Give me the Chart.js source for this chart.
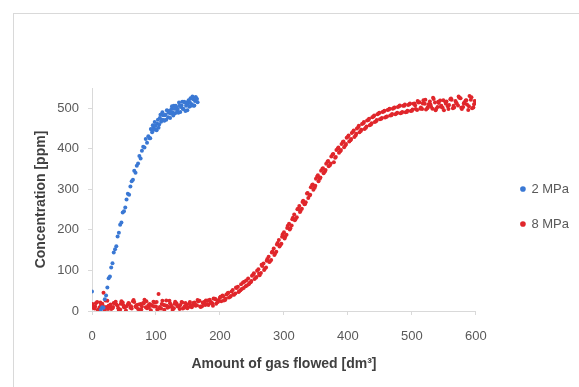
<!DOCTYPE html>
<html>
<head>
<meta charset="utf-8">
<script src="https://cdn.jsdelivr.net/npm/chart.js@4.4.1/dist/chart.umd.min.js"></script>
<style>
  html, body { margin: 0; padding: 0; background: #fff; }
  #wrap { position: relative; width: 579px; height: 387px; overflow: hidden; }
  #frame { position: absolute; left: 13px; top: 13px; width: 700px; height: 500px; border: 1px solid #d9d9d9; }
  #chart { position: absolute; left: 0; top: 0; }
</style>
</head>
<body>
<div id="wrap">
  <div id="frame"></div>
  <canvas id="chart" width="579" height="387"></canvas>
</div>
<script>
// DATA

const seriesNames = ['2 MPa', '8 MPa'];
const xTicks = [0, 100, 200, 300, 400, 500, 600];
const yTicks = [0, 100, 200, 300, 400, 500];

// 2 MPa run (blue)
const blueX = [0, 14,
    16, 18, 20, 22, 24, 26, 28, 30, 32, 34, 36, 38, 40, 42, 44, 46, 48, 50,
    52, 54, 56, 58, 60, 62, 64, 66, 68, 70, 72, 74, 76, 78, 80, 82, 84, 86,
    88, 90, 92, 94, 96, 98, 100, 102, 104, 106, 108, 110, 112, 114, 116, 118, 120, 122, 124, 126,
    128, 130, 132, 134, 136, 138, 140, 142, 144, 146, 148, 150, 152, 154, 156, 158, 160, 162, 164,
    91, 93, 95, 97, 99, 101, 103, 105, 107, 109, 111, 113, 115, 117, 119, 121, 123, 125, 127, 129,
    131, 133, 135, 137, 139, 141, 143, 145, 147, 149, 151, 153, 155, 157, 159, 161, 163, 165];
const blueY = [48, 4,
    9, 8, 29, 38, 58, 81, 85, 107, 118, 144, 152, 160, 184, 193, 213, 218, 243, 246,
    255, 275, 289, 287, 307, 320, 324, 346, 341, 358, 364, 382, 376, 395, 405, 403, 424, 415,
    431, 426, 449, 441, 454, 466, 448, 462, 452, 476, 467, 490, 471, 483, 472, 494, 489, 476, 498, 490,
    506, 488, 502, 498, 514, 491, 507, 499, 516, 493, 514, 511, 504, 525, 510, 522, 507, 528, 523,
    426, 447, 458, 447, 457, 446, 472, 460, 484, 472, 483, 469, 484, 495, 478, 493, 487, 505, 482, 499,
    506, 493, 489, 507, 503, 516, 498, 514, 506, 495, 520, 514, 506, 529, 506, 518, 525, 515];

// 8 MPa run (red), three interleaved passes
const redX1 = [];
for (let x = 0; x <= 600; x += 4) redX1.push(x);
const redY1 = [14, 6, 22, 9, 18, 3, 25, 11, 7, 19, 13, 4, 21, 10, 16, 8, 24, 12, 5, 17,
    20, 9, 14, 2, 23, 11, 42, 6, 15, 26, 10, 13, 7, 19, 12, 22, 8, 16,
    18, 9, 21, 14, 25, 12, 23, 17, 28, 19, 30, 22, 33,
    38, 27, 44, 35, 52, 43, 60, 51, 70, 61, 80, 71, 90, 82, 103, 94, 117, 107, 134, 126, 154, 146, 175, 166, 194,
    188, 215, 211, 238, 231, 259, 252, 263, 290, 285, 311, 304, 332, 326, 351, 344, 368, 360, 386, 378, 400, 394, 417, 409, 430,
    421, 442, 433, 453, 444, 463, 452, 471, 460, 480, 468, 487, 474, 492, 479, 497, 483, 501, 487, 505, 489, 506, 491, 510, 494,
    512, 496, 515, 498, 511, 500, 517, 499, 514, 503, 519, 501, 516, 505, 522, 500, 518, 507, 525, 503, 519, 496, 521, 502, 515];
const redX2 = [];
for (let x = 2; x <= 598; x += 4) redX2.push(x);
const redY2 = [8, 19, 4, 15, 45, 10, 13, 5, 20, 16, 1, 24, 9, 12, 18, 6, 22, 15, 3, 11,
    28, 7, 17, 13, 21, 4, 10, 25, 14, 8, 19, 3, 23, 11, 15, 6, 20, 9,
    11, 20, 13, 24, 10, 19, 26, 15, 22, 31, 18, 27, 24,
    26, 41, 33, 48, 40, 57, 49, 54, 72, 63, 69, 87, 79, 99, 88, 111, 104, 128, 122, 147, 141, 168, 162, 189, 183,
    210, 204, 230, 226, 252, 247, 272, 268, 279, 305, 299, 326, 320, 346, 340, 363, 357, 381, 367, 397, 390, 412, 404, 427, 418,
    439, 429, 450, 441, 461, 449, 470, 458, 478, 466, 485, 473, 491, 477, 496, 482, 499, 485, 503, 488, 506, 490, 508, 493, 511,
    498, 514, 502, 520, 497, 510, 504, 523, 499, 513, 506, 495, 517, 508, 521, 502, 512, 526, 498, 515, 509, 530, 500, 518];
const redX3 = [];
for (let x = 1; x <= 597; x += 4) redX3.push(x);
const redY3 = [17, 11, 2, 21, 13, 26, 5, 16, 10, 23, 7, 18, 14, 1, 20, 12, 27, 9, 16, 4,
    19, 24, 8, 15, 11, 22, 6, 17, 3, 13, 25, 9, 18, 14, 5, 21, 12, 7,
    22, 14, 17, 27, 11, 21, 15, 26, 20, 13, 29, 23, 35,
    36, 30, 45, 37, 41, 58, 47, 66, 57, 75, 66, 74, 93, 84, 92, 114, 101, 124, 121, 144, 138, 164, 159, 183, 179,
    205, 201, 226, 224, 251, 244, 269, 264, 291, 287, 312, 309, 335, 329, 352, 348, 370, 364, 387, 380, 403, 397, 418, 412, 433,
    424, 445, 437, 457, 447, 466, 455, 474, 463, 482, 471, 489, 476, 494, 480, 499, 486, 502, 489, 507, 491, 509, 494, 512, 497,
    507, 518, 499, 512, 521, 503, 509, 526, 495, 516, 504, 520, 511, 498, 524, 506, 514, 529, 501, 512, 520, 505, 527, 510];

const blueColor = '#3a78d4';
const redColor = '#e0262b';

function toPoints(xs, ys) {
    return xs.map((x, i) => ({ x: x, y: ys[i] }));
}

// nudge the right-hand legend into place
const legendShift = {
    id: 'legendShift',
    afterLayout(chart) {
        const l = chart.legend;
        l.left += 23; l.right += 23;
        l.top -= 24; l.bottom -= 24;
    }
};

// CHART

const ctx = document.getElementById('chart').getContext('2d');
new Chart(ctx, {
    type: 'scatter',
    data: {
        datasets: [{
            label: seriesNames[0],
            data: toPoints(blueX, blueY),
            backgroundColor: blueColor,
            borderWidth: 0,
            pointRadius: 2
        }, {
            label: seriesNames[1],
            data: toPoints(redX1, redY1).concat(toPoints(redX2, redY2), toPoints(redX3, redY3)),
            backgroundColor: redColor,
            borderWidth: 0,
            pointRadius: 2
        }]
    },
    plugins: [legendShift],
    options: {
        responsive: false,
        animation: false,
        layout: { padding: { left: 33, right: 23, top: 88, bottom: 14 } },
        plugins: {
            tooltip: { enabled: false },
            legend: {
                position: 'right',
                labels: {
                    usePointStyle: true,
                    pointStyle: 'circle',
                    boxWidth: 4,
                    boxHeight: 4,
                    padding: 22,
                    color: '#595959',
                    font: { family: 'Liberation Sans', size: 13 }
                }
            }
        },
        scales: {
            x: {
                type: 'linear',
                min: 0,
                max: 600,
                afterBuildTicks: s => { s.ticks = xTicks.map(v => ({ value: v })); },
                afterFit: s => { s.height = 62; },
                grid: { display: true, drawOnChartArea: false, color: '#d9d9d9', tickLength: 4 },
                border: { color: '#d9d9d9' },
                ticks: { color: '#595959', padding: 14, font: { family: 'Liberation Sans', size: 13 } },
                title: {
                    display: true,
                    text: 'Amount of gas flowed [dm³]',
                    color: '#404040',
                    padding: { top: 0, bottom: 0 },
                    font: { family: 'Liberation Sans', size: 14, weight: 'bold' }
                }
            },
            y: {
                type: 'linear',
                min: 0,
                max: 550,
                afterBuildTicks: s => { s.ticks = yTicks.map(v => ({ value: v })); },
                afterFit: s => { s.width = 59; },
                grid: { display: true, drawOnChartArea: false, color: '#d9d9d9', tickLength: 4 },
                border: { color: '#d9d9d9' },
                ticks: { color: '#595959', padding: 9, font: { family: 'Liberation Sans', size: 13 } },
                title: {
                    display: true,
                    text: 'Concentration [ppm]',
                    color: '#404040',
                    padding: { top: 0, bottom: 0 },
                    font: { family: 'Liberation Sans', size: 14, weight: 'bold' }
                }
            }
        }
    }
});
</script>
</body>
</html>
